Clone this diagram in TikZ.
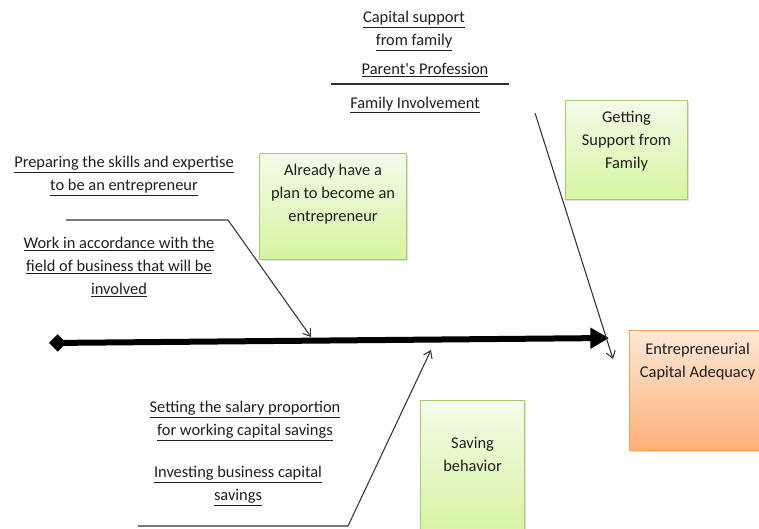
\documentclass[tikz,border=0pt]{standalone}
\usepackage{fontspec}
\setmainfont{Carlito}
\usetikzlibrary{arrows.meta,shadows}
\definecolor{gtop}{HTML}{F3FBE8}
\definecolor{gbot}{HTML}{D6F4A0}
\definecolor{gbrd}{HTML}{A8CB6E}
\definecolor{otop}{HTML}{FDE8D6}
\definecolor{obot}{HTML}{FBB078}
\definecolor{obrd}{HTML}{F7A05A}
\definecolor{txt}{HTML}{1E1E1E}
\newcommand\ul[1]{\underline{#1}}
\tikzset{
  lbl/.style={font=\fontsize{12.3}{17.25}\selectfont, text=txt, align=center, inner sep=0pt},
  greenbox/.style={draw=gbrd, line width=0.8pt, top color=gtop, bottom color=gbot, anchor=north west, inner sep=0pt,
    drop shadow={shadow xshift=1.2pt, shadow yshift=-1.2pt, opacity=0.25}},
  orangebox/.style={draw=obrd, line width=0.8pt, top color=otop, bottom color=obot, anchor=north west, inner sep=0pt,
    drop shadow={shadow xshift=1.2pt, shadow yshift=-1.2pt, opacity=0.25}},
  bone/.style={draw=black!80, line width=0.8pt},
  bonearrow/.style={bone, -{Straight Barb[length=5pt,width=7pt]}},
  spine/.style={line width=4.5pt, {Diamond[length=13pt,width=13pt]}-{Triangle[length=14pt,width=15pt]}}
}
\begin{document}
\begin{tikzpicture}[x=0.75pt,y=-0.75pt]
\useasboundingbox (0,0) rectangle (759,528);
% boxes
\node[greenbox, minimum width=147*0.75pt, minimum height=106*0.75pt] (plan) at (259,153) {};
\node[lbl, anchor=north] (plant) at ([yshift=-8pt]plan.north) {Already have a\\plan to become an\\entrepreneur};
\node[greenbox, minimum width=122*0.75pt, minimum height=99*0.75pt] (fam) at (565,100) {};
\node[lbl, anchor=north] (famt) at ([yshift=-8.5pt]fam.north) {Getting\\Support from\\Family};
\node[greenbox, minimum width=104*0.75pt, minimum height=135*0.75pt] (sav) at (420,400) {};
\node[lbl, anchor=north] (savt) at ([yshift=-28pt]sav.north) {Saving\\behavior};
\node[orangebox, minimum width=140*0.75pt, minimum height=120*0.75pt] (out) at (629,330) {};
\node[lbl, anchor=north west] (outt) at ([xshift=8pt,yshift=-9.5pt]out.north west) {Entrepreneurial\\Capital Adequacy};
% spine
\coordinate (sL) at (49,343);
\coordinate (sR) at (609,338);
\draw[spine] (sL) -- (sR);
% top-left bone
\coordinate (a1) at (66,220);
\coordinate (a2) at (228,220);
\coordinate (a3) at (311,337);
\draw[bonearrow] (a1) -- (a2) -- (a3);
% bottom-left bone
\coordinate (b1) at (138,526);
\coordinate (b2) at (348,526);
\coordinate (b3) at (431,350);
\draw[bonearrow] (b1) -- (b2) -- (b3);
% top-right bone
\coordinate (c1) at (535,113);
\coordinate (c2) at (613,359);
\draw[bonearrow] (c1) -- (c2);
% horizontal rule under Parent's Profession
\coordinate (h1) at (331,84);
\coordinate (h2) at (509,84);
\draw[bone] (h1) -- (h2);
% labels
\node[lbl] (cap) at (414,31) {\ul{Capital support}\\\ul{from family}};
\node[lbl] (par) at (425,70) {\ul{Parent\textquotesingle s Profession}};
\node[lbl] (inv) at (415,105) {\ul{Family Involvement}};
\node[lbl] (prep) at (124,176) {\ul{Preparing the skills and expertise}\\\ul{to be an entrepreneur}};
\node[lbl] (work) at (119,267) {\ul{Work in accordance with the}\\\ul{field of business that will be}\\\ul{involved}};
\node[lbl] (sal) at (245,421) {\ul{Setting the salary proportion}\\\ul{for working capital savings}};
\node[lbl] (invest) at (238,486) {\ul{Investing business capital}\\\ul{savings}};
\end{tikzpicture}
\end{document}
